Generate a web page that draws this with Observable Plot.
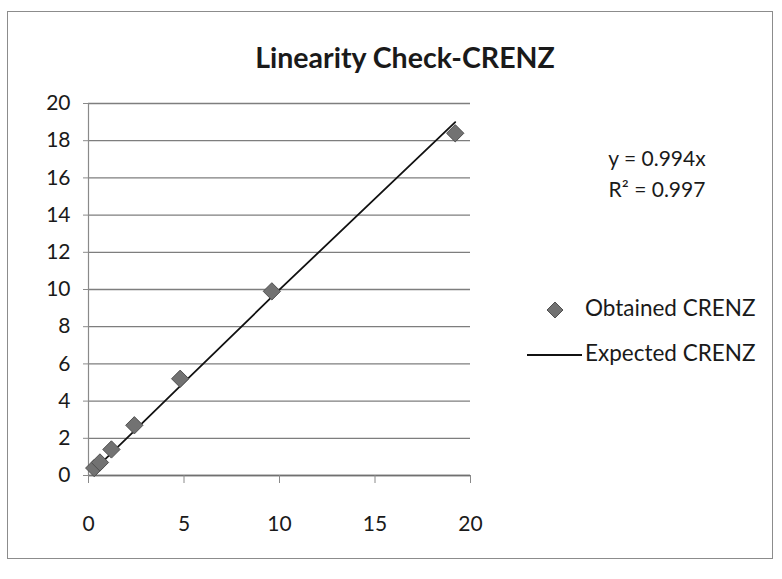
<!DOCTYPE html>
<html>
<head>
<meta charset="utf-8">
<script src="https://cdn.jsdelivr.net/npm/d3@7"></script>
<script src="https://cdn.jsdelivr.net/npm/@observablehq/plot@0.6"></script>
<style>
  body { margin: 0; background: #ffffff; font-family: Lato, "Open Sans", sans-serif; }
  #wrap { position: relative; width: 782px; height: 579px; overflow: hidden; }
  #frame { position: absolute; left: 7px; top: 11px; width: 766px; height: 548px; border: 1px solid #8c8c8c; box-sizing: border-box; }
  #title { position: absolute; left: 0; width: 810px; top: 40px; text-align: center; font-weight: bold; font-size: 28.5px; color: #1a1a1a; }
  #eq { position: absolute; left: 592px; top: 142px; width: 130px; text-align: center; font-size: 21px; line-height: 31px; color: #1a1a1a; }
  .leg { position: absolute; left: 585px; font-size: 22.5px; color: #1a1a1a; white-space: nowrap; }
  svg.plot { position: absolute; left: 0; top: 0; }
</style>
</head>
<body>
<div id="wrap">
  <div id="frame"></div>
  <div id="title">Linearity Check-CRENZ</div>
  <div id="eq">y = 0.994x<br>R² = 0.997</div>
  <svg id="legsym" width="782" height="579" style="position:absolute;left:0;top:0">
    <path d="M555,302 L563,310 L555,318 L547,310 Z" fill="#727272" stroke="#505050" stroke-width="1"/>
    <line x1="527" x2="582" y1="355" y2="355" stroke="#111" stroke-width="1.8"/>
  </svg>
  <div class="leg" style="top:294px">Obtained CRENZ</div>
  <div class="leg" style="top:339px">Expected CRENZ</div>
</div>
<script>
// Data
const concentration = [0.3, 0.6, 1.2, 2.4, 4.8, 9.6, 19.2];
const obtained      = [0.4, 0.7, 1.4, 2.7, 5.2, 9.9, 18.4];
const expected      = [0.3, 0.6, 1.2, 2.4, 4.8, 9.6, 19.0];
const xTicks = [0, 5, 10, 15, 20];
const yTicks = [0, 2, 4, 6, 8, 10, 12, 14, 16, 18, 20];

const obtainedData = concentration.map((x, i) => ({x, y: obtained[i]}));
const expectedData = concentration.map((x, i) => ({x, y: expected[i]}));

const chart = Plot.plot({
  width: 782,
  height: 579,
  marginLeft: 88,
  marginRight: 312,
  marginTop: 103,
  marginBottom: 104,
  style: { background: "transparent", fontFamily: "Lato, sans-serif", fontSize: "21px", color: "#1a1a1a" },
  x: { domain: [0, 20], ticks: xTicks, label: null },
  y: { domain: [0, 20], ticks: yTicks, label: null },
  marks: [
    Plot.ruleY(yTicks, { stroke: "#7e7e7e", strokeWidth: 1.3, strokeOpacity: 1 }),
    Plot.ruleX([0], { stroke: "#8a8a8a", strokeWidth: 1.2 }),
    Plot.ruleY([0], { stroke: "#707070", strokeWidth: 1.5 }),
    Plot.axisY({ ticks: yTicks, tickSize: 5, tickPadding: 13, stroke: "#8a8a8a", label: null }),
    Plot.axisX({ ticks: xTicks, tickSize: 8, tickPadding: 33, stroke: "#8a8a8a", label: null }),
    Plot.line(expectedData, { x: "x", y: "y", stroke: "#111", strokeWidth: 1.8 }),
    Plot.dot(obtainedData, { x: "x", y: "y", symbol: "diamond2", r: 7.8, fill: "#727272", stroke: "#505050", strokeWidth: 1 })
  ]
});
document.getElementById("wrap").insertBefore(chart, document.getElementById("title"));
</script>
</body>
</html>
